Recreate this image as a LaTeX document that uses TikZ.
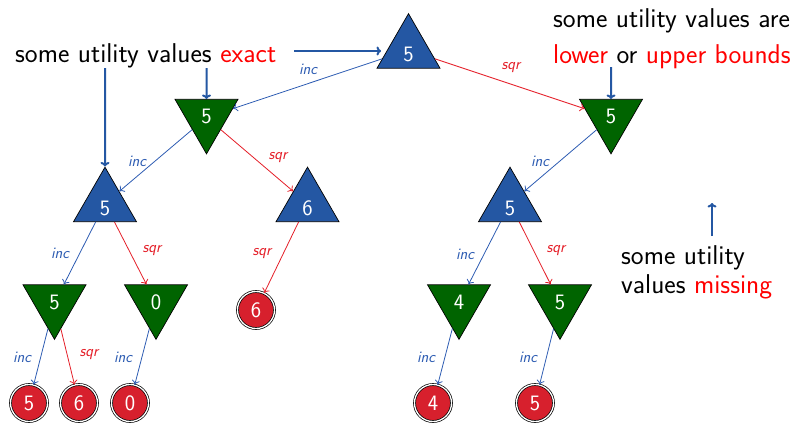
\documentclass[tikz,border=0pt]{standalone}
\usetikzlibrary{shapes.geometric,arrows.meta}
\definecolor{maxblue}{RGB}{36,87,163}
\definecolor{mingreen}{RGB}{0,100,0}
\definecolor{leafred}{RGB}{215,32,45}
\definecolor{edgeblue}{RGB}{45,92,178}
\definecolor{edgered}{RGB}{228,30,40}
\definecolor{hilite}{RGB}{255,0,0}
\begin{document}
\begin{tikzpicture}[x=1pt,y=-1pt,
  numfont/.style={font=\sffamily\fontsize{22}{26}\selectfont},
  maxnode/.style={regular polygon, regular polygon sides=3, minimum size=72.7pt,
    inner sep=0pt, fill=maxblue, draw=black, line width=0.7pt, text=white,
    numfont, text height=23pt, text depth=0pt},
  minnode/.style={regular polygon, regular polygon sides=3, shape border rotate=180,
    minimum size=72.7pt, inner sep=0pt, fill=mingreen, draw=black, line width=0.7pt,
    text=white, numfont, text height=12pt, text depth=0pt},
  leaf/.style={circle, fill=leafred, draw=black, double=white, double distance=1.3pt,
    line width=0.7pt, minimum size=37pt, inner sep=0pt, text=white, numfont},
  incedge/.style={draw=edgeblue, line width=0.8pt, -{To[length=4.5pt,width=8pt]}},
  sqredge/.style={draw=edgered, line width=0.8pt, -{To[length=4.5pt,width=8pt]}},
  inclbl/.style={text=edgeblue, font=\sffamily\itshape\fontsize{16}{19}\selectfont, inner sep=0pt},
  sqrlbl/.style={text=edgered, font=\sffamily\itshape\fontsize{16}{19}\selectfont, inner sep=0pt},
  note/.style={font=\sffamily\fontsize{27.2}{32}\selectfont, inner sep=0pt, anchor=base west},
  notearrow/.style={draw=maxblue, line width=2pt, -{To[length=4.5pt,width=9pt]}}
]
\useasboundingbox (0,0) rectangle (803,424);

% tree nodes
\node[maxnode] (root) at (408.5,50) {5};
\node[minnode] (mL) at (206.5,117.5) {5};
\node[minnode] (mR) at (611,117.5) {5};
\node[maxnode] (xL) at (105,203.5) {5};
\node[maxnode] (xM) at (307.5,203.5) {6};
\node[maxnode] (xR) at (510,203.5) {5};
\node[minnode] (n1) at (54.5,303) {5};
\node[minnode] (n2) at (156,303) {0};
\node[minnode] (n3) at (459,303) {4};
\node[minnode] (n4) at (560,303) {5};
\node[leaf] (l1) at (29,403) {5};
\node[leaf] (l2) at (79,403) {6};
\node[leaf] (l3) at (130,403) {0};
\node[leaf] (l6) at (256,310) {6};
\node[leaf] (l4) at (433,403) {4};
\node[leaf] (l5) at (535,403) {5};

% edges
\draw[incedge] (root) -- (mL);
\draw[sqredge] (root) -- (mR);
\draw[incedge] (mL) -- (xL);
\draw[sqredge] (mL) -- (xM);
\draw[incedge] (mR) -- (xR);
\draw[incedge] (xL) -- (n1);
\draw[sqredge] (xL) -- (n2);
\draw[sqredge] (xM) -- (l6);
\draw[incedge] (xR) -- (n3);
\draw[sqredge] (xR) -- (n4);
\draw[incedge] (n1) -- (l1);
\draw[sqredge] (n1) -- (l2);
\draw[incedge] (n2) -- (l3);
\draw[incedge] (n3) -- (l4);
\draw[incedge] (n4) -- (l5);

% edge labels
\node[inclbl] (e1) at (308,69) {inc};
\node[sqrlbl] (e2) at (511,68) {sqr};
\node[inclbl] (e3) at (137,161) {inc};
\node[sqrlbl] (e4) at (278,158) {sqr};
\node[inclbl] (e5) at (540,161) {inc};
\node[inclbl] (e6) at (60,253) {inc};
\node[sqrlbl] (e7) at (152,251) {sqr};
\node[sqrlbl] (e8) at (262,254) {sqr};
\node[inclbl] (e9) at (465,254) {inc};
\node[sqrlbl] (e10) at (556,251) {sqr};
\node[inclbl] (e11) at (22,357) {inc};
\node[sqrlbl] (e12) at (89,355) {sqr};
\node[inclbl] (e13) at (123,357) {inc};
\node[inclbl] (e14) at (426,357) {inc};
\node[inclbl] (e15) at (528,357) {inc};

% annotations
\node[note] (exact) at (15,62) {some utility values \textcolor{hilite}{exact}};
\node[note] (bnd1) at (553,27) {some utility values are};
\node[note] (bnd2) at (553,63) {\textcolor{hilite}{lower} or \textcolor{hilite}{upper bounds}};
\node[note] (mis1) at (621,264) {some utility};
\node[note] (mis2) at (621,293) {values \textcolor{hilite}{missing}};

\coordinate (a1s) at (294,51);
\coordinate (a1e) at (381,51);
\coordinate (a2s) at (206.5,68);
\coordinate (a3s) at (105,68);
\coordinate (a4s) at (611,67);
\coordinate (a5s) at (712,236);
\coordinate (a5e) at (712,203);
\draw[notearrow] (a1s) -- (a1e);
\draw[notearrow] (a2s) -- (mL.north);
\draw[notearrow] (a3s) -- (xL.north);
\draw[notearrow] (a4s) -- (mR.north);
\draw[notearrow] (a5s) -- (a5e);
\end{tikzpicture}
\end{document}
